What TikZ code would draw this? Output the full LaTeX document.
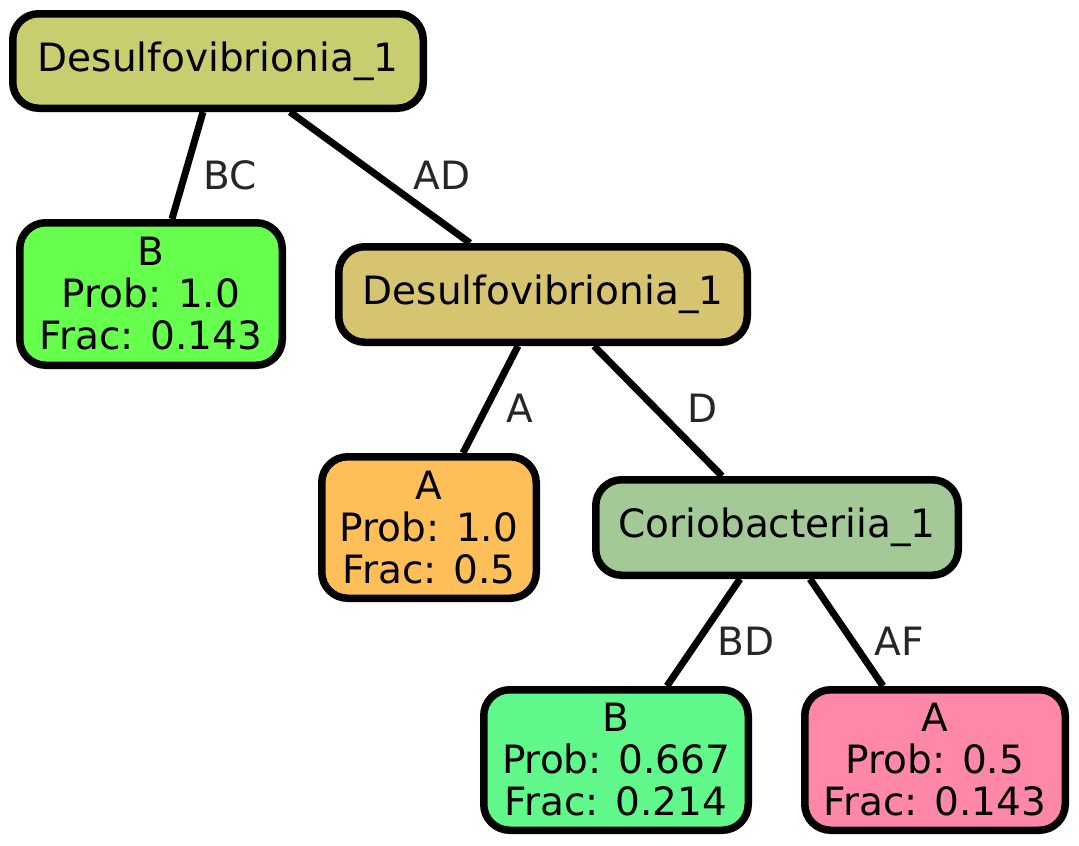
\documentclass[tikz,border=0pt]{standalone}
\usepackage{fontspec}
\setmainfont{DejaVu Sans}
\usepackage{xcolor}
\definecolor{FillRoot}{RGB}{200,206,111}
\definecolor{FillMid}{RGB}{215,196,112}
\definecolor{FillCorio}{RGB}{162,201,150}
\definecolor{FillGreenA}{RGB}{102,255,77}
\definecolor{FillOrange}{RGB}{254,191,88}
\definecolor{FillGreenB}{RGB}{96,248,138}
\definecolor{FillPink}{RGB}{255,136,168}
\definecolor{LabelGray}{RGB}{38,38,38}
\usepackage{tikz}
\usetikzlibrary{positioning, calc}
\tikzset{
  % Tree node box
  tbox/.style={
    rectangle, rounded corners=26pt,
    draw=black, line width=7.5pt,
    align=center, inner sep=0pt,
    font=\fontsize{39}{42}\selectfont
  },
  % Edges
  arr/.style={line width=7pt, black},
  % Edge label
  elabel/.style={font=\fontsize{39}{42}\selectfont, text=LabelGray, inner sep=0pt},
}
\begin{document}
\begin{tikzpicture}[x=1pt, y=-1pt]
  \useasboundingbox (0,0) rectangle (1079,846);

  %% Nodes
  \node[tbox, fill=FillRoot, minimum width=410.5pt, minimum height=94.5pt] (root) at (218,61) {Desulfovibrionia\_1};
  \node[tbox, fill=FillGreenA, minimum width=262.5pt, minimum height=142.5pt] (leafB) at (151,294) {B\\Prob: 1.0\\Frac: 0.143};
  \node[tbox, fill=FillMid, minimum width=408.5pt, minimum height=95.5pt] (mid) at (543,294.5) {Desulfovibrionia\_1};
  \node[tbox, fill=FillOrange, minimum width=214.5pt, minimum height=141.5pt] (leafA) at (429,527.5) {A\\Prob: 1.0\\Frac: 0.5};
  \node[tbox, fill=FillCorio, minimum width=362.5pt, minimum height=95.5pt] (corio) at (777,527.5) {Coriobacteriia\_1};
  \node[tbox, fill=FillGreenB, minimum width=264.5pt, minimum height=140.5pt] (leafBD) at (616,760) {B\\Prob: 0.667\\Frac: 0.214};
  \node[tbox, fill=FillPink, minimum width=260.5pt, minimum height=140.5pt] (leafAF) at (935,760) {A\\Prob: 0.5\\Frac: 0.143};

  %% Edges
  \draw[arr] ([xshift=-15pt]root.south) -- ([xshift=21pt]leafB.north);
  \draw[arr] ([xshift=72pt]root.south) -- ([xshift=-73pt]mid.north);
  \draw[arr] ([xshift=-25pt]mid.south) -- ([xshift=34pt]leafA.north);
  \draw[arr] ([xshift=51pt]mid.south) -- ([xshift=-55pt]corio.north);
  \draw[arr] ([xshift=-37pt]corio.south) -- ([xshift=51pt]leafBD.north);
  \draw[arr] ([xshift=33pt]corio.south) -- ([xshift=-52pt]leafAF.north);

  %% Edge labels
  \node[elabel] (lbc) at (230,175) {BC};
  \node[elabel] (lad) at (442,175) {AD};
  \node[elabel] (la) at (520,408) {A};
  \node[elabel] (ld) at (703,408) {D};
  \node[elabel] (lbd) at (746,641) {BD};
  \node[elabel] (laf) at (899,641) {AF};
\end{tikzpicture}
\end{document}
